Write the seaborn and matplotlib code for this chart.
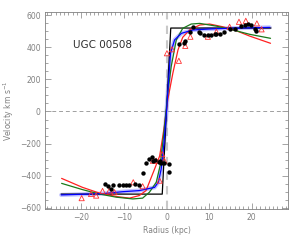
import matplotlib
matplotlib.use("Agg")
import matplotlib.pyplot as plt
import numpy as np
import pandas as pd
import seaborn as sns
from matplotlib.ticker import MultipleLocator

# observed points (black dots)
dot_r = [2.9, 4.1, 4.4, 5.4, 6.2, 7.6, 7.9, 8.8, 9.7, 10.4, 11.3, 11.7, 12.5, 13.4,
         14.8, 16.0, 17.4, 18.4, 19.1, 19.8, 20.7, 21.1,
         -14.4, -13.8, -13.0, -12.5, -11.1, -10.3, -9.6, -8.9, -7.5, -6.5, -5.4,
         -4.9, -4.0, -3.4, -3.1, -2.8, -1.8, -1.6, -1.2, -0.5, 0.5, 0.6]
dot_v = [421, 429, 441, 493, 524, 493, 487, 479, 479, 479, 481, 481, 481, 493,
         512, 512, 534, 538, 545, 537, 512, 501,
         -452, -466, -483, -458, -458, -458, -458, -458, -452, -458, -384,
         -318, -297, -281, -307, -301, -314, -307, -318, -318, -328, -380]

# observed points (red open triangles)
tri_r = [0.1, 1.3, 2.9, 4.4, 5.6, 9.7, 11.7, 14.8, 17.0, 18.6, 21.2, 22.3,
         -19.9, -17.7, -16.5, -15.0, -13.4, -12.2, -7.8, -5.6, -3.2, -2.4, -1.6, -1.0, -0.5]
tri_v = [363, 388, 316, 409, 466, 466, 497, 528, 559, 565, 549, 512,
         -540, -514, -524, -495, -493, -503, -441, -466, -307, -307, -431, -266, -307]

# model curves
step_r = [-24.7, -1.0, 1.0, 24.5]
step_v = [-515, -515, 520, 520]

blue_r = [-24.7, -15.0, -10.3, -6.4, -2.8, -1.9, -1.25, -0.6, 0.0, 0.5, 0.94, 1.9, 3.5, 6.2, 10.0, 14.0, 19.0, 24.2]
blue_v = [-520, -512, -500, -493, -473, -440, -359, -200, 0, 200, 363, 446, 487, 508, 514, 518, 521, 524]

red_r = [-24.6, -19.7, -15.8, -11.8, -8.7, -6.4, -4.8, -2.8, -1.6, -0.6, 0.3, 1.5, 2.7, 3.8, 5.4, 7.8, 10.1, 13.2, 16.4, 19.5, 24.4]
red_v = [-417, -473, -508, -530, -540, -524, -493, -359, -277, -110, 74, 240, 384, 462, 508, 539, 545, 528, 503, 470, 425]

green_r = [-24.6, -19.7, -15.8, -11.8, -7.9, -5.6, -4.0, -2.4, -1.5, -0.6, 0.3, 1.1, 2.3, 3.8, 5.8, 7.8, 11.7, 15.6, 19.5, 24.4]
green_v = [-448, -487, -514, -534, -545, -540, -503, -441, -338, -130, 116, 280, 446, 518, 545, 549, 532, 508, 481, 456]

dots = pd.DataFrame({"r": dot_r, "v": dot_v})
tris = pd.DataFrame({"r": tri_r, "v": tri_v})

sns.set_theme(style="ticks")
plt.rcParams["font.family"] = ["DejaVu Sans"]
grey = "#808080"

fig = plt.figure(figsize=(3, 2.4), dpi=100)
ax = fig.add_axes([0.15, 0.129, 0.81, 0.821])

ax.axhline(0, color="#a0a0a0", lw=0.7, ls=(0, (4, 3)), zorder=1)
ax.axvline(0, color="#c8c8c8", lw=1.5, ls=(0, (4, 3)), zorder=1)

sns.lineplot(x=blue_r, y=blue_v, ax=ax, color="#9999ff", lw=3, alpha=0.6, sort=False, zorder=2)
sns.lineplot(x=step_r, y=step_v, ax=ax, color="black", lw=0.9, sort=False, zorder=3)
sns.lineplot(x=red_r, y=red_v, ax=ax, color="#ff2020", lw=0.9, sort=False, zorder=3)
sns.lineplot(x=green_r, y=green_v, ax=ax, color="#1a7a1a", lw=0.9, sort=False, zorder=3)
sns.lineplot(x=blue_r, y=blue_v, ax=ax, color="#0000ff", lw=0.9, sort=False, zorder=4)

sns.scatterplot(data=tris, x="r", y="v", ax=ax, marker="^", s=14, facecolor="none",
                edgecolor="#ff3030", linewidth=0.6, zorder=5)
sns.scatterplot(data=dots, x="r", y="v", ax=ax, marker="o", s=10, color="black",
                edgecolor="black", linewidth=0, zorder=6)

ax.text(-22, 415, "UGC 00508", fontsize=7.5, color="#303030", va="center", ha="left")

ax.set_xlim(-28.5, 28.5)
ax.set_ylim(-608, 620)
ax.xaxis.set_major_locator(MultipleLocator(10))
ax.xaxis.set_minor_locator(MultipleLocator(1))
ax.yaxis.set_major_locator(MultipleLocator(200))
ax.yaxis.set_minor_locator(MultipleLocator(50))
ax.tick_params(which="both", direction="in", top=True, right=True, colors=grey,
               labelsize=5.5, width=0.5, labelcolor=grey)
ax.tick_params(which="major", length=4, pad=3)
ax.tick_params(which="minor", length=2)
for s in ax.spines.values():
    s.set_color(grey)
    s.set_linewidth(0.6)

ax.set_xlabel("Radius (kpc)", fontsize=5.5, color=grey, labelpad=3)
ax.set_ylabel("Velocity km s$^{-1}$", fontsize=5.5, color=grey, labelpad=3)

fig.savefig("out.png", dpi=100)
